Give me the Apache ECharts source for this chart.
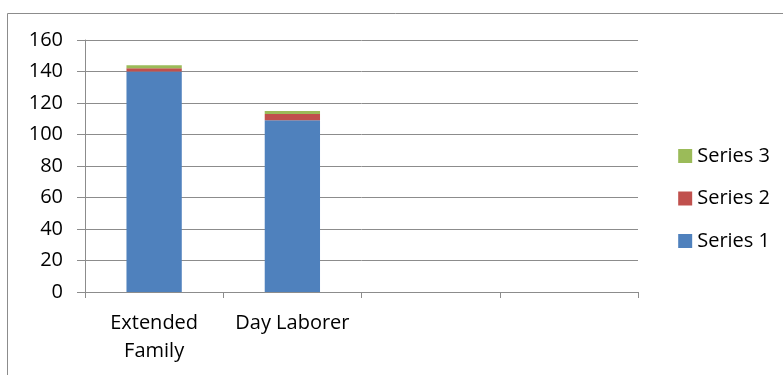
<!DOCTYPE html>
<html><head><meta charset="utf-8">
<script src="https://cdn.jsdelivr.net/npm/echarts@6/dist/echarts.min.js"></script>
<style>html,body{margin:0;padding:0;background:#fff}#c{width:783px;height:375px}</style>
</head><body><div id="c"></div>
<script>
var categories = ['Extended\nFamily', 'Day Laborer', '', ''];
var series1 = [140, 109, null, null];
var series2 = [2, 4, null, null];
var series3 = [2, 2, null, null];
var legendOrder = ['Series 3', 'Series 2', 'Series 1'];

var chart = echarts.init(document.getElementById('c'));
var font = 'Open Sans';
chart.setOption({
  animation: false,
  graphic: [{type: 'rect', shape: {x: 7.5, y: 13.5, width: 800, height: 400}, style: {fill: 'none', stroke: '#8c8c8c', lineWidth: 1}, silent: true}],
  grid: {left: 85, right: 145, top: 40, bottom: 83, containLabel: false},
  legend: {
    orient: 'vertical', right: 8, top: 141, itemWidth: 14, itemHeight: 14, itemGap: 22.5,
    data: legendOrder, icon: 'rect',
    textStyle: {fontFamily: font, fontSize: 20, color: '#000'}
  },
  xAxis: {
    type: 'category', data: categories, boundaryGap: true,
    axisLine: {lineStyle: {color: '#8c8c8c', width: 1}},
    axisTick: {show: true, alignWithLabel: false, length: 6, lineStyle: {color: '#8c8c8c'}},
    axisLabel: {fontFamily: font, fontSize: 20, color: '#000', lineHeight: 28, margin: 17, interval: 0}
  },
  yAxis: {
    type: 'value', min: 0, max: 160, interval: 20,
    axisLine: {show: true, lineStyle: {color: '#8c8c8c'}},
    axisTick: {show: true, length: 8, lineStyle: {color: '#8c8c8c'}},
    axisLabel: {fontFamily: font, fontSize: 20, color: '#000', margin: 22},
    splitLine: {lineStyle: {color: '#8c8c8c', width: 1}}
  },
  series: [
    {name: 'Series 1', type: 'bar', stack: 's', data: series1, barWidth: '40%', itemStyle: {color: '#4f81bd'}},
    {name: 'Series 2', type: 'bar', stack: 's', data: series2, itemStyle: {color: '#c0504d'}},
    {name: 'Series 3', type: 'bar', stack: 's', data: series3, itemStyle: {color: '#9bbb59'}}
  ]
});
</script></body></html>
